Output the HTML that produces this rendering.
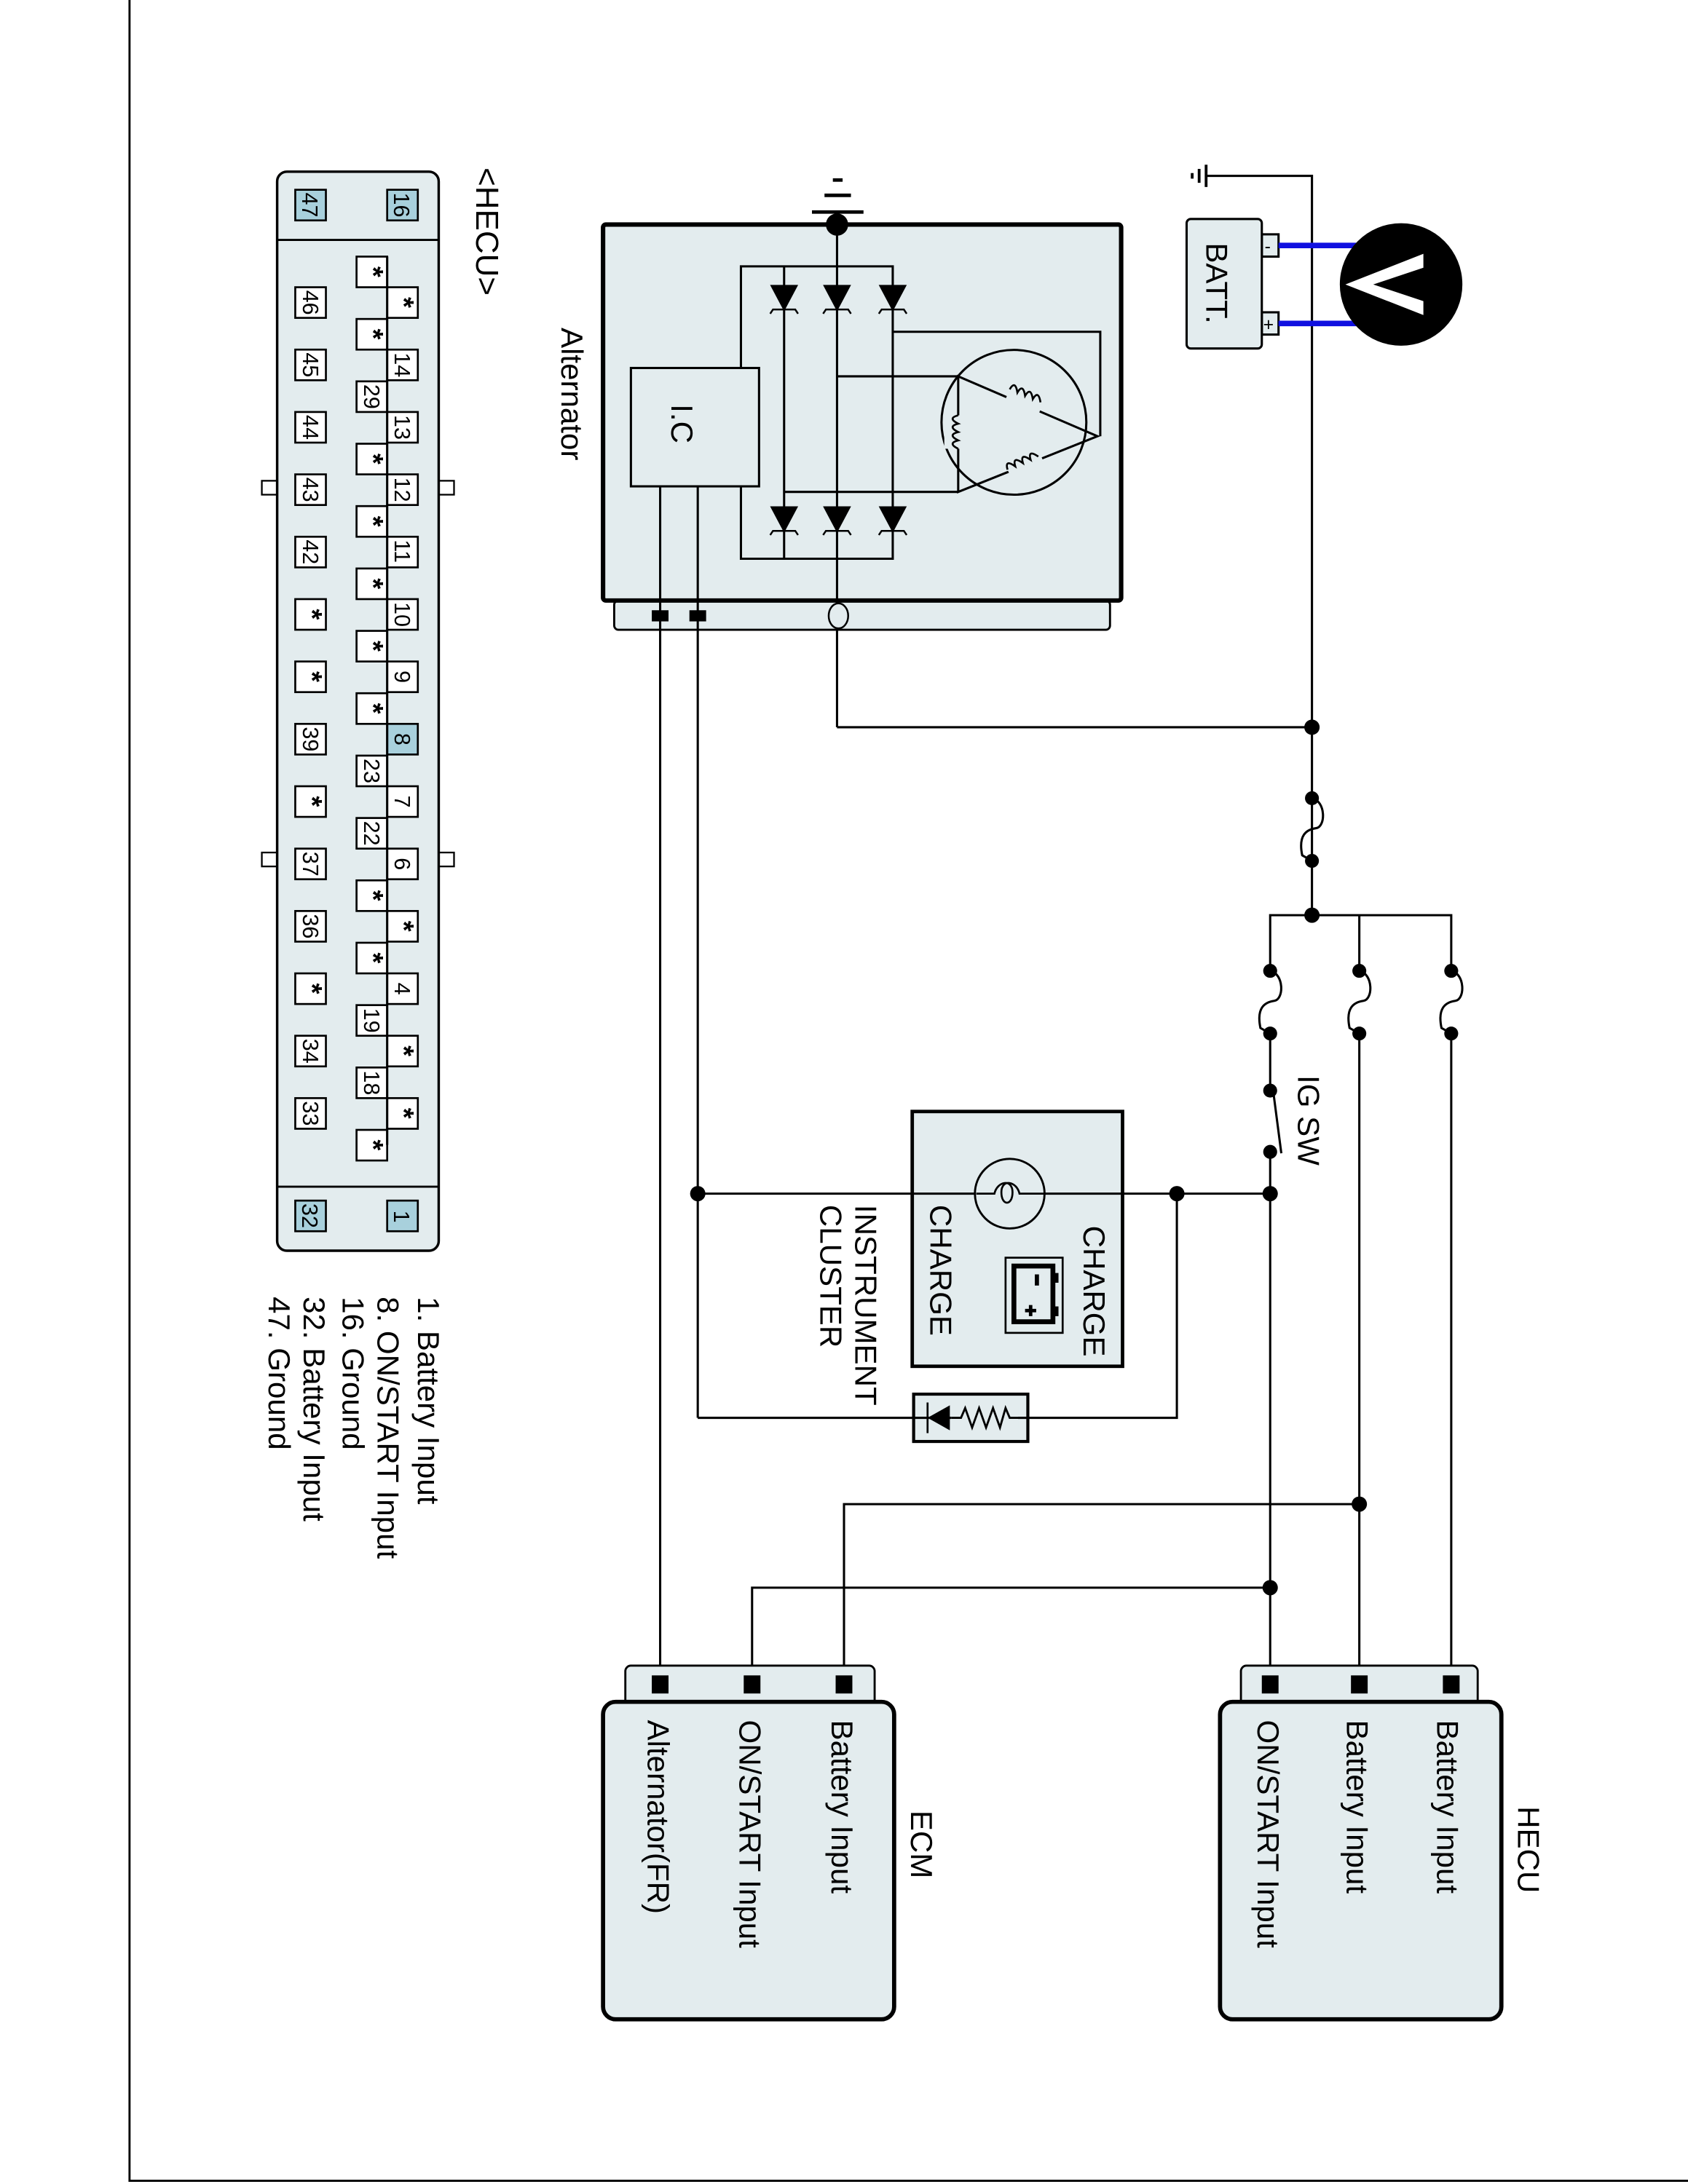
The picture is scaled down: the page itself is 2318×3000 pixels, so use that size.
<!DOCTYPE html>
<html><head><meta charset="utf-8"><style>
html,body{margin:0;padding:0;background:#fff;}
svg{display:block;}
text{font-family:"Liberation Sans",Arial,sans-serif;fill:#000;stroke:none;}
</style></head><body>
<svg width="2318" height="3000" viewBox="0 0 1212 1568" xmlns="http://www.w3.org/2000/svg">
<rect x="0" y="0" width="1212" height="1568" fill="#fff"/>
<rect x="93" y="-2" width="1120" height="1568" fill="none" stroke="#000" stroke-width="1.5"/>

<!-- HECU connector -->
<g stroke="#000">
<rect x="188" y="345" width="11" height="10" fill="#fff" stroke-width="1.2"/>
<rect x="315" y="345" width="11" height="10" fill="#fff" stroke-width="1.2"/>
<rect x="188" y="612" width="11" height="10" fill="#fff" stroke-width="1.2"/>
<rect x="315" y="612" width="11" height="10" fill="#fff" stroke-width="1.2"/>
<rect x="199" y="123" width="116" height="775" rx="7" fill="#e3ecee" stroke-width="1.8"/>
<line x1="199" y1="172" x2="315" y2="172" stroke-width="1.5"/>
<line x1="199" y1="852" x2="315" y2="852" stroke-width="1.5"/>
</g>
<text transform="translate(342,120) rotate(90)" font-size="23">&lt;HECU&gt;</text>

<g font-size="22">
<text transform="translate(300,931) rotate(90)">1. Battery Input</text>
<text transform="translate(271,931) rotate(90)">8. ON/START Input</text>
<text transform="translate(246,931) rotate(90)">16. Ground</text>
<text transform="translate(218,931) rotate(90)">32. Battery Input</text>
<text transform="translate(193,931) rotate(90)">47. Ground</text>
</g>

<!-- Alternator -->
<text transform="translate(403,235) rotate(90)" font-size="22">Alternator</text>
<rect x="441" y="431" width="356" height="21" rx="3" fill="#e3ecee" stroke="#000" stroke-width="1.5"/>
<rect x="433" y="161" width="372" height="270" rx="2" fill="#e3ecee" stroke="#000" stroke-width="3.2"/>
<g stroke="#000" stroke-width="1.6" fill="none">
<line x1="601" y1="161" x2="601" y2="522"/>
<polyline points="532,264 532,191 641,191 641,401 532,401 532,349"/>
<line x1="563" y1="191" x2="563" y2="401"/>
<rect x="453" y="264" width="92" height="85" fill="#e3ecee"/>
<line x1="474" y1="349" x2="474" y2="1210"/>
<line x1="501" y1="349" x2="501" y2="1018"/>
<polyline points="641,238 790,238 790,313"/>
<line x1="601" y1="270" x2="688" y2="270"/>
<line x1="563" y1="353" x2="688" y2="353"/>
<circle cx="728" cy="303" r="52"/>
<polygon points="688,270 688,353 788,313"/>
</g>
<g stroke="#000" stroke-width="1.4" fill="#e3ecee">
<rect x="678" y="298" width="16" height="24" stroke="none"/>
<path d="M688,298 q-8,2 0,6 q-8,2 0,6 q-8,2 0,6 q-8,2 0,6" fill="none"/>
<rect x="722" y="280" width="26" height="18" stroke="none" transform="rotate(23 735 289)"/>
<path d="M722,284 q1,-8 6,0 q1,-8 6,0 q1,-8 6,0 q1,-8 6,0" fill="none" transform="rotate(23 735 289)"/>
<rect x="722" y="322" width="26" height="18" stroke="none" transform="rotate(-23 735 331)"/>
<path d="M722,332 q1,-8 6,0 q1,-8 6,0 q1,-8 6,0 q1,-8 6,0" fill="none" transform="rotate(-23 735 331)"/>
</g>
<text transform="translate(482,290) rotate(90)" font-size="22">I.C</text>
<g id="diodes" fill="#000" stroke="#000" stroke-width="1.3"></g>
<circle cx="601" cy="161" r="8" fill="#000"/>
<g stroke="#000" stroke-width="2.5">
<line x1="583" y1="152" x2="620" y2="152"/>
<line x1="592" y1="140" x2="611" y2="140"/>
<line x1="598" y1="129" x2="605" y2="129"/>
</g>
<ellipse cx="602" cy="442" rx="7" ry="9" fill="#e3ecee" stroke="#000" stroke-width="1.3"/>
<rect x="468" y="438" width="12" height="8" fill="#000"/>
<rect x="495" y="438" width="12" height="8" fill="#000"/>

<!-- battery -->
<g stroke="#000" stroke-width="1.6">
<polyline points="866,126 942,126 942,657" fill="none"/>
<line x1="866" y1="118" x2="866" y2="134" stroke-width="2"/>
<line x1="861" y1="121" x2="861" y2="131" stroke-width="2"/>
<line x1="856" y1="124" x2="856" y2="128" stroke-width="2"/>
<rect x="906" y="168" width="12" height="16" fill="#e3ecee"/>
<rect x="906" y="224" width="12" height="16" fill="#e3ecee"/>
<rect x="852" y="157" width="54" height="93" rx="3" fill="#e3ecee"/>
</g>
<text x="908" y="181" font-size="13">-</text>
<text x="907" y="237" font-size="13">+</text>
<text transform="translate(866,174) rotate(90)" font-size="22">BATT.</text>
<line x1="918" y1="176" x2="978" y2="176" stroke="#1010e0" stroke-width="4"/>
<line x1="918" y1="232" x2="978" y2="232" stroke="#1010e0" stroke-width="4"/>
<circle cx="1006" cy="204" r="44" fill="#000"/>
<polygon points="966,204 1022,182 1022,192 986,204 1022,216 1022,226" fill="#fff"/>

<!-- main wiring -->
<g stroke="#000" stroke-width="1.6" fill="none">
<polyline points="601,522 942,522"/>
<polyline points="912,742 912,783"/>
<line x1="912" y1="827" x2="912" y2="1210"/>
<polyline points="912,697 912,657 1042,657 1042,697"/>
<polyline points="976,657 976,697"/>
<line x1="976" y1="742" x2="976" y2="1210"/>
<line x1="1042" y1="742" x2="1042" y2="1210"/>
<line x1="501" y1="857" x2="912" y2="857"/>
<polyline points="845,857 845,1018 501,1018"/>
<polyline points="976,1080 606,1080 606,1210"/>
<polyline points="912,1140 540,1140 540,1210"/>
<line x1="914" y1="782" x2="920" y2="828"/>
</g>
<g id="fuses" stroke="#000" stroke-width="1.6" fill="none"></g>
<g fill="#000">
<circle cx="942" cy="522" r="5.5"/><circle cx="942" cy="657" r="5.5"/>
<circle cx="942" cy="573" r="5"/><circle cx="942" cy="618" r="5"/>
<circle cx="912" cy="697" r="5"/><circle cx="912" cy="742" r="5"/>
<circle cx="976" cy="697" r="5"/><circle cx="976" cy="742" r="5"/>
<circle cx="1042" cy="697" r="5"/><circle cx="1042" cy="742" r="5"/>
<circle cx="912" cy="783" r="5"/><circle cx="912" cy="827" r="5"/>
<circle cx="912" cy="857" r="5.5"/><circle cx="845" cy="857" r="5.5"/>
<circle cx="501" cy="857" r="5.5"/><circle cx="976" cy="1080" r="5.5"/>
<circle cx="912" cy="1140" r="5.5"/>
</g>
<text transform="translate(932,772) rotate(90)" font-size="22">IG SW</text>

<!-- Instrument cluster -->
<rect x="655" y="798" width="151" height="183" fill="#e3ecee" stroke="#000" stroke-width="2.5"/>
<line x1="655" y1="857" x2="806" y2="857" stroke="#000" stroke-width="1.6"/>
<circle cx="725" cy="857" r="25" fill="#e3ecee" stroke="#000" stroke-width="1.5"/>
<path d="M701,857 L714,857 C716,848 727,846 727,856 C727,866 719,866 719,856 C719,846 730,848 732,857 L750,857" fill="none" stroke="#000" stroke-width="1.4"/>
<rect x="722" y="903" width="41" height="54" fill="#e3ecee" stroke="#000" stroke-width="1.4"/>
<rect x="728" y="909" width="28" height="40" fill="none" stroke="#000" stroke-width="3.5"/>
<rect x="755" y="914" width="5" height="7" fill="#000"/>
<rect x="755" y="938" width="5" height="7" fill="#000"/>
<rect x="743" y="915" width="3" height="8" fill="#000"/>
<path d="M736,941 h8 M740,937 v8" stroke="#000" stroke-width="2.5"/>
<g font-size="22">
<text transform="translate(778,880) rotate(90)">CHARGE</text>
<text transform="translate(668,865) rotate(90)">CHARGE</text>
<text transform="translate(614,865) rotate(90)">INSTRUMENT</text>
<text transform="translate(589,865) rotate(90)">CLUSTER</text>
</g>
<rect x="656" y="1001" width="82" height="34" fill="#e3ecee" stroke="#000" stroke-width="2.2"/>
<line x1="656" y1="1018" x2="738" y2="1018" stroke="#000" stroke-width="1.6"/>
<line x1="666" y1="1007" x2="666" y2="1029" stroke="#000" stroke-width="1.4"/>
<polygon points="666,1018 682,1009 682,1027" fill="#000"/>
<rect x="683" y="1010" width="48" height="16" fill="#e3ecee"/>
<polyline points="683,1018 690,1018 693,1011 698,1025 703,1011 708,1025 713,1011 718,1025 722,1011 725,1018 738,1018" fill="none" stroke="#000" stroke-width="1.5"/>

<!-- ECM -->
<rect x="449" y="1196" width="179" height="30" rx="4" fill="#e3ecee" stroke="#000" stroke-width="1.5"/>
<rect x="433" y="1222" width="209" height="228" rx="9" fill="#e3ecee" stroke="#000" stroke-width="3"/>
<rect x="468" y="1203" width="12" height="13" fill="#000"/>
<rect x="534" y="1203" width="12" height="13" fill="#000"/>
<rect x="600" y="1203" width="12" height="13" fill="#000"/>
<g font-size="22">
<text transform="translate(654,1300) rotate(90)">ECM</text>
<text transform="translate(597,1235) rotate(90)">Battery Input</text>
<text transform="translate(531,1235) rotate(90)">ON/START Input</text>
<text transform="translate(465,1235) rotate(90)">Alternator(FR)</text>
</g>

<!-- HECU -->
<rect x="891" y="1196" width="170" height="30" rx="4" fill="#e3ecee" stroke="#000" stroke-width="1.5"/>
<rect x="876" y="1222" width="202" height="228" rx="9" fill="#e3ecee" stroke="#000" stroke-width="3"/>
<rect x="906" y="1203" width="12" height="13" fill="#000"/>
<rect x="970" y="1203" width="12" height="13" fill="#000"/>
<rect x="1036" y="1203" width="12" height="13" fill="#000"/>
<g font-size="22">
<text transform="translate(1090,1297) rotate(90)">HECU</text>
<text transform="translate(1032,1235) rotate(90)">Battery Input</text>
<text transform="translate(967,1235) rotate(90)">Battery Input</text>
<text transform="translate(903,1235) rotate(90)">ON/START Input</text>
</g>

<g stroke="#000" stroke-width="1.4">
<rect x="212" y="136" width="22" height="22" fill="#a8d0dc"/>
<rect x="278" y="136" width="22" height="22" fill="#a8d0dc"/>
<rect x="212" y="862" width="22" height="22" fill="#a8d0dc"/>
<rect x="278" y="862" width="22" height="22" fill="#a8d0dc"/>
</g>
<g font-size="16">
<text transform="translate(217,138) rotate(90)">47</text>
<text transform="translate(283,138) rotate(90)">16</text>
<text transform="translate(217,864) rotate(90)">32</text>
<text transform="translate(283,869) rotate(90)">1</text>
</g>
<g id="grid" stroke="#000" stroke-width="1.4" font-size="16"></g>
<line x1="278" y1="184" x2="278" y2="822" stroke="#000" stroke-width="1.6"/>

<script>
(function(){
var ns="http://www.w3.org/2000/svg";
function el(p,t,a,txt){var e=document.createElementNS(ns,t);for(var k in a)e.setAttribute(k,a[k]);if(txt!==undefined)e.textContent=txt;p.appendChild(e);return e;}
var g=document.getElementById("grid");
function col(x,y0,labels){
 labels.forEach(function(l,k){
  var cy=y0+44.8*k; var hi=(l==="8");
  el(g,"rect",{x:x,y:cy-11,width:22,height:22,fill:hi?"#a8d0dc":"#fff"});
  var w=(l==="*")?8:(l.length*8.9);
  el(g,"text",{transform:"translate("+(x+5.5)+","+(cy-w/2)+") rotate(90)",stroke:"none","font-weight":l==="*"?"bold":"normal","font-size":l==="*"?"20":"16"},l);
 });
}
col(212,217,["46","45","44","43","42","*","*","39","*","37","36","*","34","33"]);
col(256,195,["*","*","29","*","*","*","*","*","23","22","*","*","19","18","*"]);
col(278,217,["*","14","13","12","11","10","9","8","7","6","*","4","*","*"]);
var d=document.getElementById("diodes");
[[563,213],[601,213],[641,213],[563,372],[601,372],[641,372]].forEach(function(p){
 var x=p[0],y=p[1];
 el(d,"polygon",{points:(x-9)+","+(y-8)+" "+(x+9)+","+(y-8)+" "+x+","+(y+9)});
 el(d,"path",{d:"M"+(x-10)+","+(y+12)+" l2,-3 h16 l2,3",fill:"none"});
});
var f=document.getElementById("fuses");
function fuse(x,y1,y2){var m=(y1+y2)/2;
 el(f,"path",{d:"M"+x+","+y1+" C"+(x+10)+","+(y1+2)+" "+(x+10)+","+(m-2)+" "+(x+3)+","+(m-1)+" C"+(x-4)+","+m+" "+(x-10)+","+(m+4)+" "+(x-7)+","+(y2-4)+" L"+x+","+y2});}
fuse(942,573,618);fuse(912,697,742);fuse(976,697,742);fuse(1042,697,742);
})();
</script>
</svg>
</body></html>
